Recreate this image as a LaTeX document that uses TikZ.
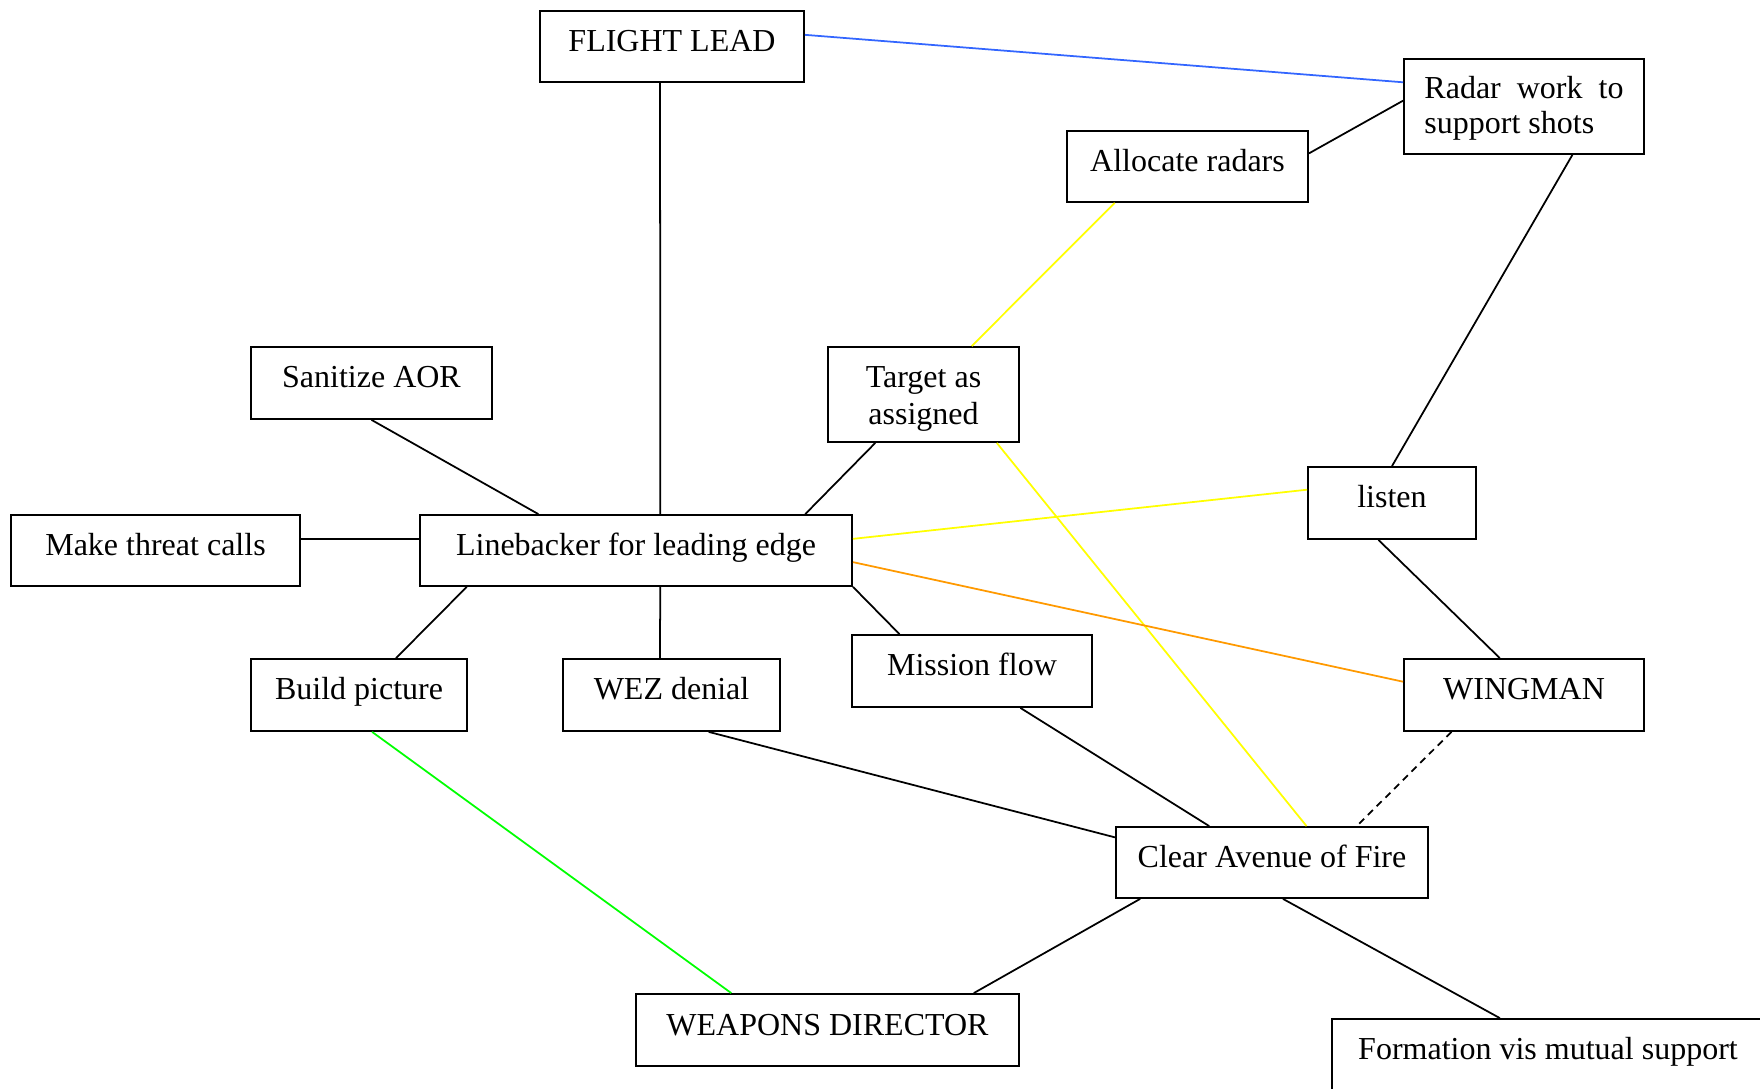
\documentclass[tikz,border=0pt]{standalone}
\usepackage{fontspec}
\setmainfont{Liberation Serif}
\usetikzlibrary{calc}
\definecolor{lnblue}{HTML}{3366FF}
\definecolor{lnyellow}{HTML}{FFFF00}
\definecolor{lnorange}{HTML}{FF9900}
\definecolor{lngreen}{HTML}{00FF00}
\begin{document}
\begin{tikzpicture}[x=0.01cm, y=-0.01cm,
  box/.style={draw, line width=0.5pt, inner sep=0pt, text height=0.24cm, text depth=0.14cm,
    font=\fontsize{9.1}{10}\selectfont},
  boxtwo/.style={draw, line width=0.5pt, inner sep=0pt, font=\fontsize{9.1}{10}\selectfont},
  link/.style={line width=0.5pt, draw=black}]
\useasboundingbox (0,0) rectangle (1760,1089);
\clip (0,0) rectangle (1760,1089);

\node[box, minimum width=2.64cm, minimum height=0.71cm] (fl) at (672,46.5) {FLIGHT LEAD};
\node[boxtwo, minimum width=2.40cm, minimum height=0.95cm, text width=1.99cm, align=justify] (radar) at (1524,106.5) {\rule{0pt}{0.25cm}Radar work to support shots};
\node[box, minimum width=2.41cm, minimum height=0.71cm] (alloc) at (1187.5,166.5) {Allocate radars};
\node[box, minimum width=2.41cm, minimum height=0.72cm] (san) at (371.5,383) {Sanitize AOR};
\node[boxtwo, minimum width=1.91cm, minimum height=0.95cm, align=center, font=\fontsize{9.1}{10.5}\selectfont] (target) at (923.5,394.5) {\rule{0pt}{0.30cm}Target as\\assigned};
\node[box, minimum width=1.68cm, minimum height=0.72cm] (listen) at (1392,503) {listen};
\node[box, minimum width=2.89cm, minimum height=0.71cm] (make) at (155.5,550.5) {Make threat calls};
\node[box, minimum width=4.32cm, minimum height=0.71cm] (lb) at (636,550.5) {Linebacker for leading edge};
\node[box, minimum width=2.16cm, minimum height=0.72cm] (build) at (359,695) {Build picture};
\node[box, minimum width=2.17cm, minimum height=0.72cm] (wez) at (671.5,695) {WEZ denial};
\node[box, minimum width=2.40cm, minimum height=0.72cm] (mission) at (972,671) {Mission flow};
\node[box, minimum width=2.40cm, minimum height=0.72cm] (wing) at (1524,695) {WINGMAN};
\node[box, minimum width=3.12cm, minimum height=0.71cm] (clear) at (1272,862.5) {Clear Avenue of Fire};
\node[box, minimum width=3.83cm, minimum height=0.72cm] (wd) at (827.5,1030) {WEAPONS DIRECTOR};
\node[box, minimum width=4.32cm, minimum height=0.72cm] (form) at (1548,1055) {Formation vis mutual support};

\draw[line width=0.5pt, lnblue] ($(fl.north east)!0.34!(fl.south east)$) -- ($(radar.north west)!0.25!(radar.south west)$);
\draw[link] ($(fl.south west)!0.455!(fl.south east)$) -- ($(lb.north west)!0.556!(lb.north east)$);
\draw[link] ($(alloc.north east)!0.32!(alloc.south east)$) -- ($(radar.north west)!0.44!(radar.south west)$);
\draw[link] ($(radar.south west)!0.70!(radar.south east)$) -- (listen.north);
\draw[line width=0.5pt, lnyellow] ($(alloc.south west)!0.20!(alloc.south east)$) -- ($(target.north west)!0.75!(target.north east)$);
\draw[link] (san.south) -- ($(lb.north west)!0.275!(lb.north east)$);
\draw[link] ($(target.south west)!0.25!(target.south east)$) -- ($(lb.north west)!0.89!(lb.north east)$);
\draw[line width=0.5pt, lnyellow] ($(target.south west)!0.88!(target.south east)$) -- ($(clear.north west)!0.61!(clear.north east)$);
\draw[link] ($(make.north east)!0.34!(make.south east)$) -- ($(lb.north west)!0.34!(lb.south west)$);
\draw[line width=0.5pt, lnyellow] ($(lb.north east)!0.34!(lb.south east)$) -- ($(listen.north west)!0.32!(listen.south west)$);
\draw[line width=0.5pt, lnorange] ($(lb.north east)!0.66!(lb.south east)$) -- ($(wing.north west)!0.32!(wing.south west)$);
\draw[link] ($(lb.south west)!0.11!(lb.south east)$) -- ($(build.north west)!0.67!(build.north east)$);
\draw[link] ($(lb.south west)!0.556!(lb.south east)$) -- ($(wez.north west)!0.447!(wez.north east)$);
\draw[link] (lb.south east) -- ($(mission.north west)!0.20!(mission.north east)$);
\draw[link] ($(listen.south west)!0.42!(listen.south east)$) -- ($(wing.north west)!0.40!(wing.north east)$);
\draw[link, dash pattern=on 2pt off 1.5pt] ($(wing.south west)!0.20!(wing.south east)$) -- ($(clear.north west)!0.77!(clear.north east)$);
\draw[line width=0.5pt, lngreen] ($(build.south west)!0.56!(build.south east)$) -- ($(wd.north west)!0.25!(wd.north east)$);
\draw[link] ($(wez.south west)!0.67!(wez.south east)$) -- ($(clear.north west)!0.155!(clear.south west)$);
\draw[link] ($(mission.south west)!0.70!(mission.south east)$) -- ($(clear.north west)!0.30!(clear.north east)$);
\draw[link] ($(clear.south west)!0.08!(clear.south east)$) -- ($(wd.north west)!0.88!(wd.north east)$);
\draw[link] ($(clear.south west)!0.535!(clear.south east)$) -- ($(form.north west)!0.389!(form.north east)$);
\end{tikzpicture}
\end{document}
